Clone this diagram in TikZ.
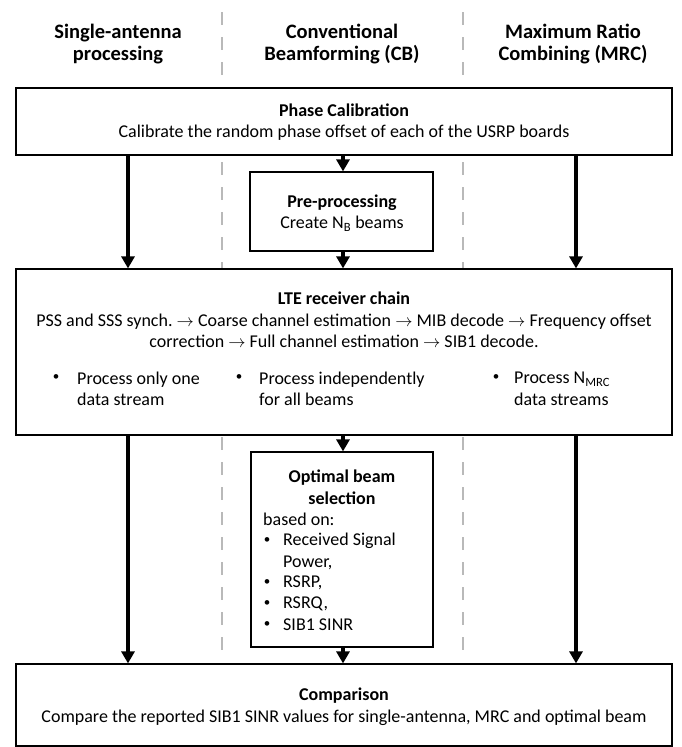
\documentclass[tikz,border=0pt]{standalone}
\usepackage{fontspec}
\setmainfont{Carlito}
\usetikzlibrary{arrows.meta}
\definecolor{sepgray}{RGB}{185,185,185}
\frenchspacing
\begin{document}
\begin{tikzpicture}[x=1pt,y=-1pt,
  box/.style={draw=black, line width=1.2pt, fill=white, inner sep=0pt},
  arr/.style={line width=3.8pt, -{Triangle[width=13pt,length=12pt]}},
  sep/.style={draw=sepgray, line width=2.6pt, dash pattern=on 13pt off 12pt},
  txt/.style={font=\fontsize{18}{21.5}\selectfont, align=center, inner sep=0pt},
  hdr/.style={font=\bfseries\fontsize{20.5}{22.5}\selectfont, align=center, inner sep=0pt},
  ltxt/.style={font=\fontsize{18}{21.5}\selectfont, align=left, inner sep=0pt, anchor=west},
  bul/.style={font=\fontsize{13}{13}\selectfont, inner sep=0pt}
]
\useasboundingbox (0,0) rectangle (681,747);
% column headers
\node[hdr] (h1) at (118,44) {Single-antenna\\processing};
\node[hdr] (h2) at (342,44) {Conventional\\Beamforming (CB)};
\node[hdr] (h3) at (573,44) {Maximum Ratio\\Combining (MRC)};
% separators
\coordinate (d1t) at (222,12); \coordinate (d1b) at (222,658);
\coordinate (d2t) at (463,12); \coordinate (d2b) at (463,658);
\draw[sep] (d1t) -- (d1b);
\draw[sep] (d2t) -- (d2b);
% boxes
\node[box, minimum width=656pt, minimum height=67pt] (phase) at (344,121.5) {};
\node[box, minimum width=183pt, minimum height=79pt] (pre) at (341.5,211.5) {};
\node[box, minimum width=656pt, minimum height=166pt] (lte) at (344,352) {};
\node[box, minimum width=182pt, minimum height=195pt] (opt) at (342,549.5) {};
\node[box, minimum width=656pt, minimum height=82pt] (cmp) at (344,705) {};
% texts
\node[txt] (phaset) at (344,122) {\textbf{Phase Calibration}\\Calibrate the random phase offset of each of the USRP boards};
\node[txt] (pret) at (342,213) {\textbf{Pre-processing}\\Create N\textsubscript{B} beams};
\node[txt] (ltet) at (344,320) {\textbf{LTE receiver chain}\\PSS and SSS synch. $\rightarrow$ Coarse channel estimation $\rightarrow$ MIB decode $\rightarrow$ Frequency offset\\correction $\rightarrow$ Full channel estimation $\rightarrow$ SIB1 decode.};
\node[bul] (lb1) at (56,378) {\textbullet};
\node[ltxt] (lt1) at (77,389) {Process only one\\data stream};
\node[bul] (lb2) at (239,378) {\textbullet};
\node[ltxt] (lt2) at (259,389) {Process independently\\for all beams};
\node[bul] (lb3) at (496,378) {\textbullet};
\node[ltxt] (lt3) at (514,389) {Process N\textsubscript{MRC}\\data streams};
\node[txt, font=\bfseries\fontsize{18}{21.5}\selectfont] (optt) at (342,487) {Optimal beam\\selection};
\node[ltxt] (based) at (263,519) {based on:};
\node[bul] (ob1) at (267,541) {\textbullet};
\node[ltxt] (ot1) at (283,551.5) {Received Signal\\Power,};
\node[bul] (ob2) at (267,583) {\textbullet};
\node[ltxt] (ot2) at (283,583) {RSRP,};
\node[bul] (ob3) at (267,604) {\textbullet};
\node[ltxt] (ot3) at (283,604) {RSRQ,};
\node[bul] (ob4) at (267,625) {\textbullet};
\node[ltxt] (ot4) at (283,625) {SIB1 SINR};
\node[txt] (cmpt) at (344,706.5) {\textbf{Comparison}\\Compare the reported SIB1 SINR values for single-antenna, MRC and optimal beam};
% arrows
\coordinate (xl) at (128,0);
\coordinate (xc) at (343,0);
\coordinate (xr) at (576,0);
\draw[arr] (phase.south -| xl) -- (lte.north -| xl);
\draw[arr] (lte.south -| xl) -- (cmp.north -| xl);
\draw[arr] (phase.south -| xr) -- (lte.north -| xr);
\draw[arr] (lte.south -| xr) -- (cmp.north -| xr);
\draw[arr] (phase.south -| xc) -- (pre.north -| xc);
\draw[arr] (pre.south -| xc) -- (lte.north -| xc);
\draw[arr] (lte.south -| xc) -- (opt.north -| xc);
\draw[arr] (opt.south -| xc) -- (cmp.north -| xc);
\end{tikzpicture}
\end{document}
